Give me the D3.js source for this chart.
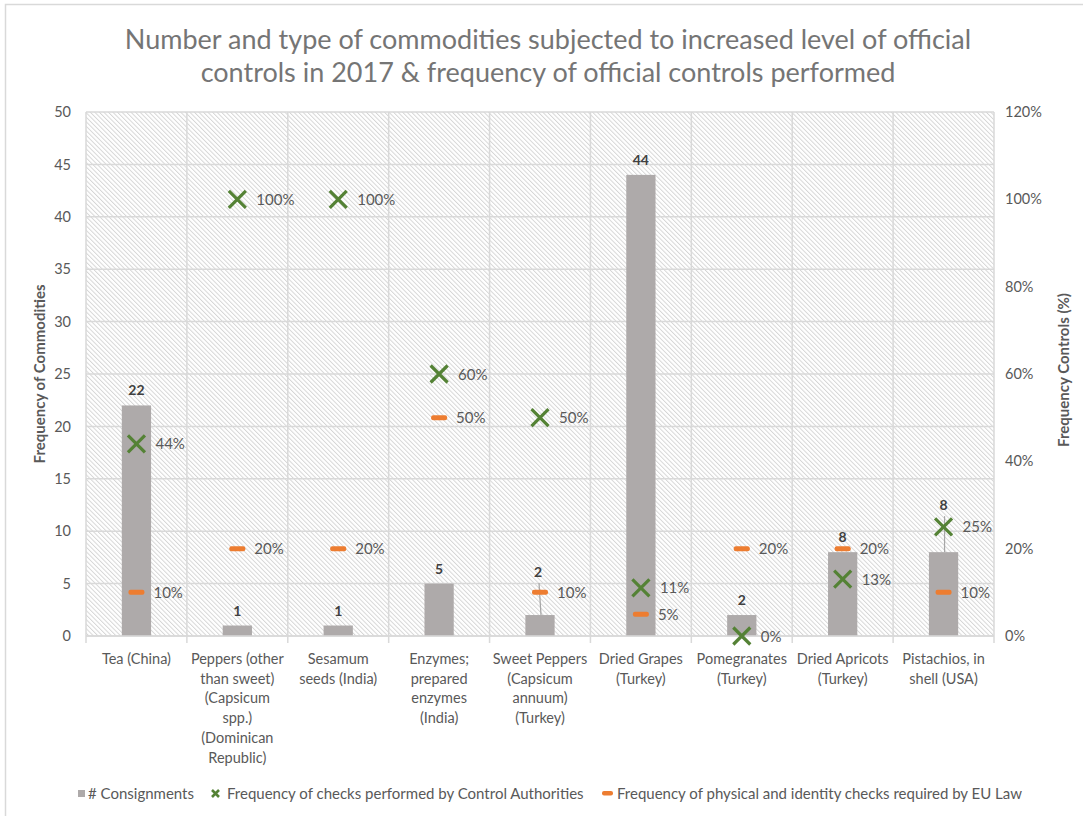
<!DOCTYPE html>
<html>
<head>
<meta charset="utf-8">
<script src="https://cdn.jsdelivr.net/npm/d3@7"></script>
<style>
  html, body { margin: 0; padding: 0; background: #fff; }
  svg { display: block; font-family: "Lato", "Open Sans", sans-serif; }
</style>
</head>
<body>
<svg id="chart" width="1083" height="816"></svg>
<script>
// Commodities under increased official controls, 2017
const categories = [
  "Tea (China)",
  "Peppers (other than sweet) (Capsicum spp.) (Dominican Republic)",
  "Sesamum seeds (India)",
  "Enzymes; prepared enzymes (India)",
  "Sweet Peppers (Capsicum annuum) (Turkey)",
  "Dried Grapes (Turkey)",
  "Pomegranates (Turkey)",
  "Dried Apricots (Turkey)",
  "Pistachios, in shell (USA)"
];
const categoryLines = [
  ["Tea (China)"],
  ["Peppers (other", "than sweet)", "(Capsicum", "spp.)", "(Dominican", "Republic)"],
  ["Sesamum", "seeds (India)"],
  ["Enzymes;", "prepared", "enzymes", "(India)"],
  ["Sweet Peppers", "(Capsicum", "annuum)", "(Turkey)"],
  ["Dried Grapes", "(Turkey)"],
  ["Pomegranates", "(Turkey)"],
  ["Dried Apricots", "(Turkey)"],
  ["Pistachios, in", "shell (USA)"]
];
const consignments = [22, 1, 1, 5, 2, 44, 2, 8, 8];
const checksPerformed = [0.44, 1.00, 1.00, 0.60, 0.50, 0.11, 0.00, 0.13, 0.25];
const checksRequired = [0.10, 0.20, 0.20, 0.50, 0.10, 0.05, 0.20, 0.20, 0.10];
const leftTicks = [0, 5, 10, 15, 20, 25, 30, 35, 40, 45, 50];
const rightTicks = [0, 0.2, 0.4, 0.6, 0.8, 1.0, 1.2];
const titleLines = [
  "Number and type of commodities subjected to increased level of official",
  "controls in 2017 & frequency of official controls performed"
];
const legendLabels = [
  "# Consignments",
  "Frequency of checks performed by Control Authorities",
  "Frequency of physical and identity checks required by EU Law"
];

const COLORS = {
  bar: "#aeaaaa",
  cross: "#548235",
  dash: "#ed7d31",
  grid: "#d9d9d9",
  hatch: "#d2d2d2",
  text: "#595959",
  title: "#757575",
  value: "#404040"
};

const svg = d3.select("#chart");
const plot = { left: 86, right: 994, top: 112, bottom: 636 };

// outer frame
svg.append("rect")
  .attr("x", 5.5).attr("y", 4.5)
  .attr("width", 1200).attr("height", 1000)
  .attr("fill", "none").attr("stroke", "#d9d9d9").attr("stroke-width", 1.5);

// diagonal hatch fill for the plot area
const defs = svg.append("defs");
const pat = defs.append("pattern")
  .attr("id", "hatch")
  .attr("patternUnits", "userSpaceOnUse")
  .attr("width", 3.2).attr("height", 10)
  .attr("patternTransform", "rotate(-45)");
pat.append("line")
  .attr("x1", 0.5).attr("y1", 0).attr("x2", 0.5).attr("y2", 10)
  .attr("stroke", COLORS.hatch).attr("stroke-width", 0.9);

// scales
const x = d3.scaleBand().domain(categories).range([plot.left, plot.right]).padding(0);
const yL = d3.scaleLinear().domain([0, 50]).range([plot.bottom, plot.top]);
const yR = d3.scaleLinear().domain([0, 1.2]).range([plot.bottom, plot.top]);
const cx = c => x(c) + x.bandwidth() / 2;
const barW = x.bandwidth() * 0.29;

svg.append("rect")
  .attr("x", plot.left).attr("y", plot.top)
  .attr("width", plot.right - plot.left).attr("height", plot.bottom - plot.top)
  .attr("fill", "url(#hatch)");

// horizontal gridlines
svg.append("g").selectAll("line").data(leftTicks).join("line")
  .attr("x1", plot.left).attr("x2", plot.right)
  .attr("y1", d => yL(d)).attr("y2", d => yL(d))
  .attr("stroke", COLORS.grid).attr("stroke-width", 1.5);

// vertical category separators, extending below the axis as ticks
const bounds = categories.map(c => x(c)).concat([x.range()[1]]);
svg.append("g").selectAll("line").data(bounds).join("line")
  .attr("x1", d => d).attr("x2", d => d)
  .attr("y1", plot.top).attr("y2", plot.bottom + 7)
  .attr("stroke", COLORS.grid).attr("stroke-width", 1.5);

// left axis
const axL = svg.append("g")
  .attr("transform", `translate(${plot.left - 15},0)`)
  .call(d3.axisLeft(yL).tickValues(leftTicks).tickSize(0).tickPadding(0));
axL.select(".domain").remove();
axL.selectAll("text")
  .attr("fill", COLORS.text).style("font-size", "14.5px")
  .style("font-family", "Lato, sans-serif");

// right axis
const axR = svg.append("g")
  .attr("transform", `translate(${plot.right + 11},0)`)
  .call(d3.axisRight(yR).tickValues(rightTicks).tickSize(0).tickPadding(0)
    .tickFormat(d3.format(".0%")));
axR.select(".domain").remove();
axR.selectAll("text")
  .attr("fill", COLORS.text).style("font-size", "14.5px")
  .style("font-family", "Lato, sans-serif");

// bars
svg.append("g").selectAll("rect").data(categories).join("rect")
  .attr("x", c => cx(c) - barW / 2)
  .attr("y", (c, i) => yL(consignments[i]))
  .attr("width", barW)
  .attr("height", (c, i) => yL(0) - yL(consignments[i]))
  .attr("fill", COLORS.bar);

// x axis line
svg.append("line")
  .attr("x1", plot.left).attr("x2", plot.right)
  .attr("y1", plot.bottom).attr("y2", plot.bottom)
  .attr("stroke", COLORS.grid).attr("stroke-width", 1.5);

// bar value labels; two are lifted clear of the markers with a leader line
const lifted = { 4: 28, 8: 32 };
const vLab = svg.append("g");
categories.forEach((c, i) => {
  const top = yL(consignments[i]);
  const lift = lifted[i] || 0;
  const base = top - 10 - lift;
  if (lift) {
    vLab.append("line")
      .attr("x1", cx(c) + 1).attr("y1", top)
      .attr("x2", cx(c) - 1 - (i === 8 ? -2 : 0)).attr("y2", base + 6)
      .attr("stroke", "#a6a6a6").attr("stroke-width", 1.2);
  }
  vLab.append("text")
    .attr("x", cx(c) - (lift && i === 4 ? 2 : 0)).attr("y", base)
    .attr("text-anchor", "middle")
    .attr("fill", COLORS.value)
    .style("font-size", "14px").style("font-weight", "bold")
    .text(consignments[i]);
});

const pct = d3.format(".0%");

// required-check markers (orange dash)
const dashG = svg.append("g");
categories.forEach((c, i) => {
  const yy = yR(checksRequired[i]);
  dashG.append("rect")
    .attr("x", cx(c) - 8).attr("y", yy - 2.5)
    .attr("width", 16).attr("height", 5).attr("rx", 2)
    .attr("fill", COLORS.dash);
  dashG.append("text")
    .attr("x", cx(c) + 17).attr("y", yy + 5.5)
    .attr("fill", COLORS.text).style("font-size", "15px")
    .text(pct(checksRequired[i]));
});

// performed-check markers (green cross)
const crossG = svg.append("g");
categories.forEach((c, i) => {
  const yy = yR(checksPerformed[i]);
  const s = 8.5;
  crossG.append("path")
    .attr("d", `M${cx(c) - s},${yy - s}L${cx(c) + s},${yy + s}M${cx(c) - s},${yy + s}L${cx(c) + s},${yy - s}`)
    .attr("stroke", COLORS.cross).attr("stroke-width", 3.2).attr("fill", "none");
  crossG.append("text")
    .attr("x", cx(c) + 19).attr("y", yy + 5.5)
    .attr("fill", COLORS.text).style("font-size", "15px")
    .text(pct(checksPerformed[i]));
});

// category labels
const catG = svg.append("g");
categories.forEach((c, i) => {
  const t = catG.append("text")
    .attr("x", cx(c)).attr("y", 664)
    .attr("text-anchor", "middle")
    .attr("fill", COLORS.text).style("font-size", "14.5px");
  categoryLines[i].forEach((ln, k) => {
    t.append("tspan").attr("x", cx(c)).attr("dy", k === 0 ? 0 : 19.7).text(ln);
  });
});

// axis titles
svg.append("text")
  .attr("transform", "translate(45,374) rotate(-90)")
  .attr("text-anchor", "middle").attr("fill", COLORS.text)
  .style("font-size", "15px").style("font-weight", "bold")
  .text("Frequency of Commodities");
svg.append("text")
  .attr("transform", "translate(1069,370) rotate(-90)")
  .attr("text-anchor", "middle").attr("fill", COLORS.text)
  .style("font-size", "15px").style("font-weight", "bold")
  .text("Frequency Controls (%)");

// title
svg.append("g").selectAll("text").data(titleLines).join("text")
  .attr("x", 548).attr("y", (d, i) => 49 + i * 33)
  .attr("text-anchor", "middle").attr("fill", COLORS.title)
  .style("font-size", "27px")
  .text(d => d);

// legend
const lg = svg.append("g").style("font-size", "15px");
lg.append("rect").attr("x", 78).attr("y", 790).attr("width", 7).attr("height", 7).attr("fill", COLORS.bar);
lg.append("text").attr("x", 88).attr("y", 799).attr("fill", COLORS.text).text(legendLabels[0]);
lg.append("path")
  .attr("d", "M212,790L219,797M212,797L219,790")
  .attr("stroke", COLORS.cross).attr("stroke-width", 2.6);
lg.append("text").attr("x", 227).attr("y", 799).attr("fill", COLORS.text).text(legendLabels[1]);
lg.append("rect").attr("x", 602).attr("y", 791).attr("width", 11).attr("height", 4.5).attr("rx", 2).attr("fill", COLORS.dash);
lg.append("text").attr("x", 617).attr("y", 799).attr("fill", COLORS.text).text(legendLabels[2]);
</script>
</body>
</html>
